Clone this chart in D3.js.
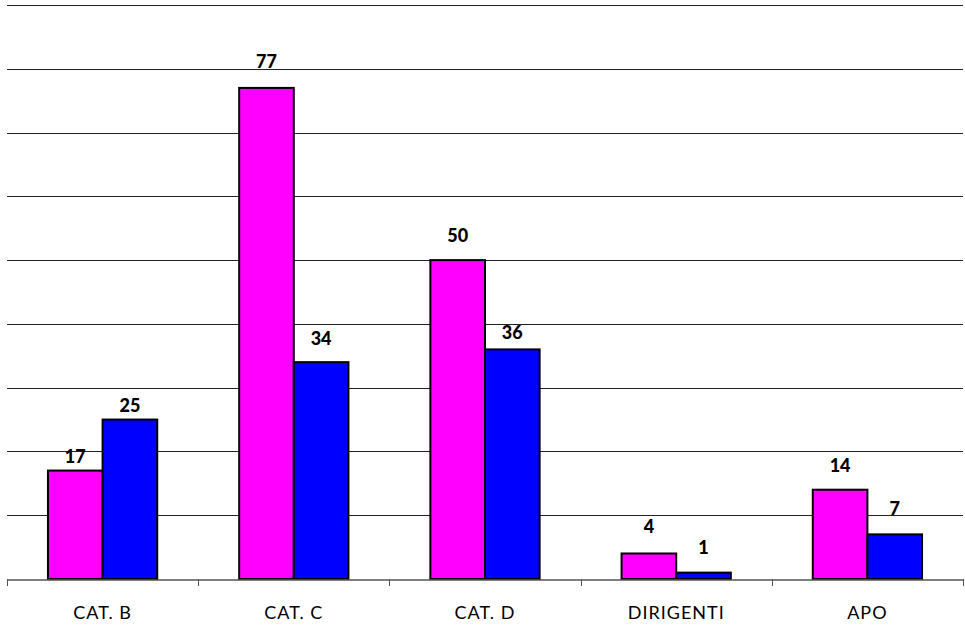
<!DOCTYPE html>
<html>
<head>
<meta charset="utf-8">
<script src="https://cdn.jsdelivr.net/npm/d3@7"></script>
<style>
  body { margin: 0; background: #fff; }
  .cat { font-family: "Lato", "DejaVu Sans", sans-serif; font-size: 18px; letter-spacing: 1px; fill: #000; }
  .val { font-family: "Lato", "DejaVu Sans", sans-serif; font-size: 18px; font-weight: 900; fill: #000; }
</style>
</head>
<body>
<svg id="chart" width="965" height="625"></svg>
<script>
// categorie e valori
var categories = ["CAT. B", "CAT. C", "CAT. D", "DIRIGENTI", "APO"];
var seriesA = [17, 77, 50, 4, 14];   // magenta
var seriesB = [25, 34, 36, 1, 7];    // blu
var gridTicks = [0, 10, 20, 30, 40, 50, 60, 70, 80, 90];
var colors = ["#ff00ff", "#0000ff"];

(function () {
    var svg = d3.select("#chart"),
        plotLeft = 7, plotRight = 963, plotTop = 5, plotBottom = 579;

    // distanza etichetta-barra come nell'originale (alcune spostate)
    var labelLift = [[8, 20, 18, 20, 18], [8, 17, 10, 19, 19]];

    var x = d3.scaleBand()
        .domain(categories)
        .range([plotLeft, plotRight])
        .paddingInner(0)
        .paddingOuter(0);

    var inner = d3.scaleBand()
        .domain([0, 1])
        .range([0, x.bandwidth()])
        .paddingInner(0)
        .paddingOuter(0.75);

    var y = d3.scaleLinear()
        .domain([0, 90])
        .range([plotBottom, plotTop]);

    // griglia
    svg.append("g")
        .selectAll("line")
        .data(gridTicks.slice(1))
        .enter().append("line")
        .attr("x1", plotLeft)
        .attr("x2", plotRight)
        .attr("y1", function (d) { return Math.round(y(d)) + 0.5; })
        .attr("y2", function (d) { return Math.round(y(d)) + 0.5; })
        .attr("stroke", "#222")
        .attr("stroke-width", 1);

    var data = categories.map(function (c, i) {
        return { cat: c, idx: i, values: [seriesA[i], seriesB[i]] };
    });

    var groups = svg.selectAll(".grp")
        .data(data)
        .enter().append("g")
        .attr("class", "grp")
        .attr("transform", function (d) { return "translate(" + x(d.cat) + ",0)"; });

    groups.selectAll("rect")
        .data(function (d) { return d.values; })
        .enter().append("rect")
        .attr("x", function (d, i) { return inner(i); })
        .attr("y", function (d) { return y(d); })
        .attr("width", inner.bandwidth())
        .attr("height", function (d) { return plotBottom - y(d); })
        .attr("fill", function (d, i) { return colors[i]; })
        .attr("stroke", "#000")
        .attr("stroke-width", 2);

    groups.each(function (g) {
        d3.select(this).selectAll(".val")
            .data(g.values)
            .enter().append("text")
            .attr("class", "val")
            .attr("x", function (d, i) { return inner(i) + inner.bandwidth() / 2; })
            .attr("y", function (d, i) { return y(d) - labelLift[i][g.idx]; })
            .attr("text-anchor", "middle")
            .text(function (d) { return d; });
    });

    // asse x
    var axis = svg.append("g")
        .attr("transform", "translate(0," + (plotBottom + 0.5) + ")")
        .call(d3.axisBottom(x).tickSize(0).tickFormat(""));
    axis.select(".domain").attr("stroke", "#555").attr("stroke-width", 1.5);
    axis.selectAll(".tick").remove();

    var edges = [plotLeft].concat(categories.map(function (c) { return x(c) + x.bandwidth(); }));
    svg.append("g")
        .selectAll("line")
        .data(edges)
        .enter().append("line")
        .attr("x1", function (d) { return Math.round(d) + 0.5; })
        .attr("x2", function (d) { return Math.round(d) + 0.5; })
        .attr("y1", plotBottom)
        .attr("y2", plotBottom + 7)
        .attr("stroke", "#555")
        .attr("stroke-width", 1);

    svg.append("g")
        .selectAll("text")
        .data(categories)
        .enter().append("text")
        .attr("class", "cat")
        .attr("x", function (d) { return x(d) + x.bandwidth() / 2; })
        .attr("y", 619)
        .attr("text-anchor", "middle")
        .text(function (d) { return d; });
})();
</script>
</body>
</html>
